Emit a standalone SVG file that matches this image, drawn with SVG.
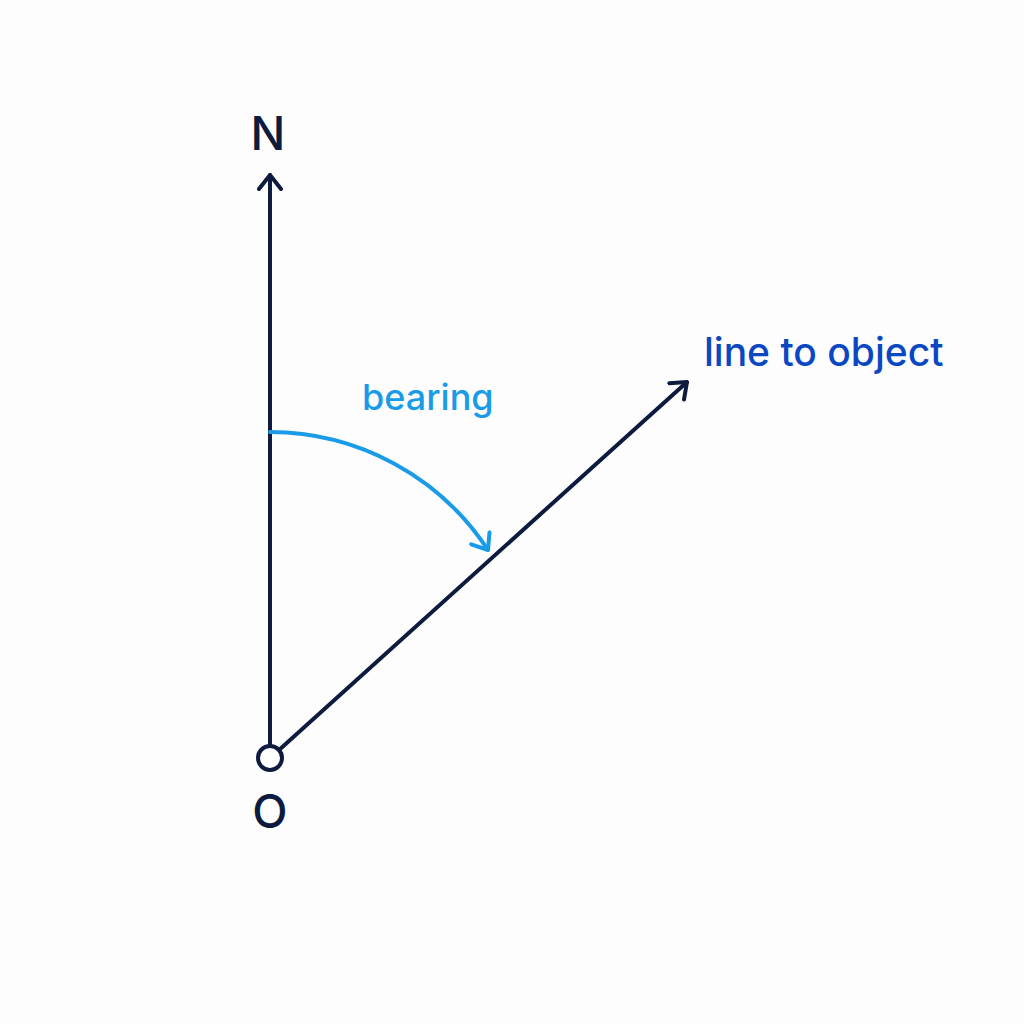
<svg xmlns="http://www.w3.org/2000/svg" width="1024" height="1024" viewBox="0 0 1024 1024">
<style>
.ax{stroke:#0d1b3e;stroke-width:4;fill:none;stroke-linecap:round}
.arc{stroke:#1a9be8;stroke-width:4;fill:none;stroke-linecap:round}
.lbl{font-family:Inter,"Liberation Sans",sans-serif;fill:#0d1b3e;font-size:46px;font-weight:500;text-anchor:middle}
.bear{font-family:Inter,"Liberation Sans",sans-serif;fill:#1a9be8;font-size:36px;font-weight:500}
.obj{font-family:Inter,"Liberation Sans",sans-serif;fill:#0a47c2;font-size:39px;font-weight:500}
</style>
<defs>
<marker id="hd" viewBox="-16 -13 18 26" markerWidth="18" markerHeight="26" refX="0" refY="0" orient="auto" markerUnits="userSpaceOnUse">
<path d="M-14,-11 L0,0 L-14,11" fill="none" stroke="#0d1b3e" stroke-width="4" stroke-linecap="round" stroke-linejoin="round"/>
</marker>
<marker id="hb" viewBox="-16 -13 18 26" markerWidth="18" markerHeight="26" refX="0" refY="0" orient="auto" markerUnits="userSpaceOnUse">
<path d="M-14,-11 L0,0 L-14,11" fill="none" stroke="#1a9be8" stroke-width="4" stroke-linecap="round" stroke-linejoin="round"/>
</marker>
</defs>
<rect width="1024" height="1024" fill="#fdfdfd"/>
<g id="connectors">
<line class="ax" x1="270" y1="746" x2="270" y2="175" marker-end="url(#hd)"/>
<line class="ax" x1="279" y1="750" x2="687" y2="382" marker-end="url(#hd)"/>
<path class="arc" d="M270,432 A261,261 0 0 1 488,550" marker-end="url(#hb)"/>
</g>
<g id="origin">
<circle cx="270" cy="758" r="12" fill="#fff" stroke="#0d1b3e" stroke-width="4"/>
<text class="lbl" x="270" y="828">O</text>
</g>
<g id="north"><text class="lbl" x="268" y="150">N</text></g>
<g id="bearing"><text class="bear" x="362" y="410">bearing</text></g>
<g id="object"><text class="obj" x="704" y="366">line to object</text></g>
</svg>
